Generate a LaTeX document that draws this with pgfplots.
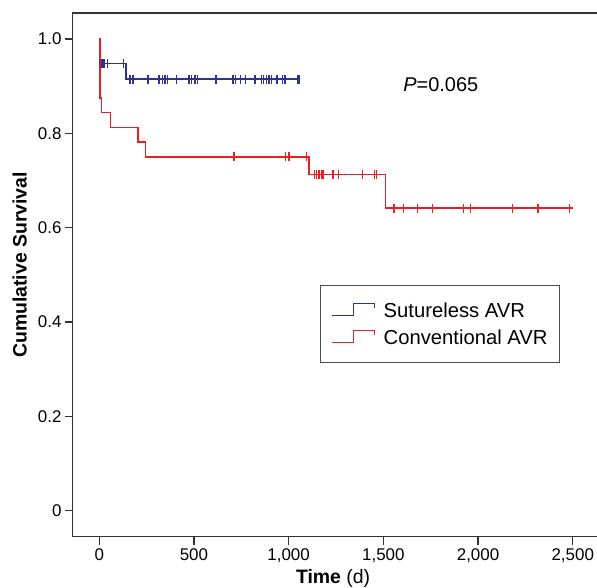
\documentclass[border=0pt]{standalone}
\usepackage{fontspec}
\setmainfont{Liberation Sans}
\usepackage{pgfplots}
\pgfplotsset{compat=1.18}
\definecolor{kmblue}{HTML}{2E3192}
\definecolor{kmred}{HTML}{EE1D23}
\definecolor{axgray}{HTML}{333333}

\begin{document}
\begin{tikzpicture}
\path[use as bounding box] (-72.7bp,-51.3bp) rectangle (524.3bp,536.7bp);
\begin{axis}[
    scale only axis,
    width=526bp, height=523.7bp,
    xmin=-140, xmax=2637,
    ymin=-0.0551, ymax=1.0551,
    axis line style={axgray, line width=1.3bp},
    tick style={axgray, line width=1.2bp},
    tick align=outside,
    major tick length=8bp,
    xtick pos=bottom, ytick pos=left,
    xtick={0,500,1000,1500,2000,2500},
    xticklabels={0,500,{1,000},{1,500},{2,000},{2,500}},
    ytick={0,0.2,0.4,0.6,0.8,1.0},
    yticklabels={0,0.2,0.4,0.6,0.8,1.0},
    ticklabel style={font=\fontsize{17}{20}\selectfont},
    xticklabel style={inner ysep=4bp},
    yticklabel style={inner xsep=3bp},
    every axis x label/.style={at={(axis description cs:0.495,-0.079)}, anchor=center,
        font=\fontsize{19.5}{23}\selectfont},
    every axis y label/.style={at={(axis description cs:-0.101,0.519)}, anchor=center, rotate=90,
        font=\fontsize{19.5}{23}\selectfont\bfseries},
    xlabel={{\bfseries Time} (d)},
    ylabel={Cumulative Survival},
    legend cell align=left,
    legend style={at={(axis description cs:0.470,0.4806)}, anchor=north west,
        draw=black!70, line width=0.8bp,
        font=\fontsize{20.3}{24}\selectfont,
        inner xsep=11.5bp, inner ysep=18bp,
        nodes={inner sep=0pt, text height=14.3bp, text depth=0pt},
        row sep=12.4bp},
    legend image code/.code={
        \path[draw=none] (0bp,0bp) -- (51.4bp,0bp);
        \draw[#1, line width=1bp] (0bp,-5bp) -- (21bp,-5bp) -- (21bp,6.7bp) -- (42bp,6.7bp) -- (42bp,2.7bp);
    },
]
% Sutureless AVR
\addplot[kmblue, line width=1.5bp, const plot] coordinates {
    (0,1.0) (4,0.948) (141,0.915) (1062,0.915)
};
\addlegendentry{Sutureless AVR}
% Conventional AVR
\addplot[kmred, line width=1.5bp, const plot] coordinates {
    (0,1.0) (5,0.875) (11,0.84375) (60,0.8125) (205,0.78125) (245,0.75)
    (1108,0.7125) (1512,0.64125) (2502,0.64125)
};
\addlegendentry{Conventional AVR}
% censored
\addplot[kmblue, only marks, mark=|, mark size=4.5bp, mark options={line width=1.3bp}, forget plot] coordinates {
    (2,0.948) (11,0.948) (18,0.948) (25,0.948) (44,0.948) (127,0.948)
    (162,0.915) (179,0.915) (257,0.915) (316,0.915) (334,0.915) (347,0.915)
    (360,0.915) (408,0.915) (474,0.915) (487,0.915) (505,0.915) (519,0.915)
    (616,0.915) (707,0.915) (720,0.915) (746,0.915) (774,0.915) (822,0.915)
    (857,0.915) (869,0.915) (883,0.915) (896,0.915) (911,0.915) (939,0.915)
    (968,0.915) (981,0.915) (1045,0.915) (1054,0.915)
};
\addplot[kmred, only marks, mark=|, mark size=4.5bp, mark options={line width=1.3bp}, forget plot] coordinates {
    (712,0.75) (985,0.75) (1002,0.75) (1095,0.75)
    (1138,0.7125) (1147,0.7125) (1161,0.7125) (1172,0.7125) (1182,0.7125)
    (1235,0.7125) (1262,0.7125) (1390,0.7125) (1455,0.7125) (1464,0.7125)
    (1556,0.64125) (1608,0.64125) (1681,0.64125) (1758,0.64125) (1925,0.64125)
    (1962,0.64125) (2182,0.64125) (2317,0.64125) (2481,0.64125)
};
\node[anchor=west, inner sep=0pt, font=\fontsize{20}{24}\selectfont] at (axis cs:1605,0.9025) {\textit{P}=0.065};
\end{axis}
\end{tikzpicture}
\end{document}
